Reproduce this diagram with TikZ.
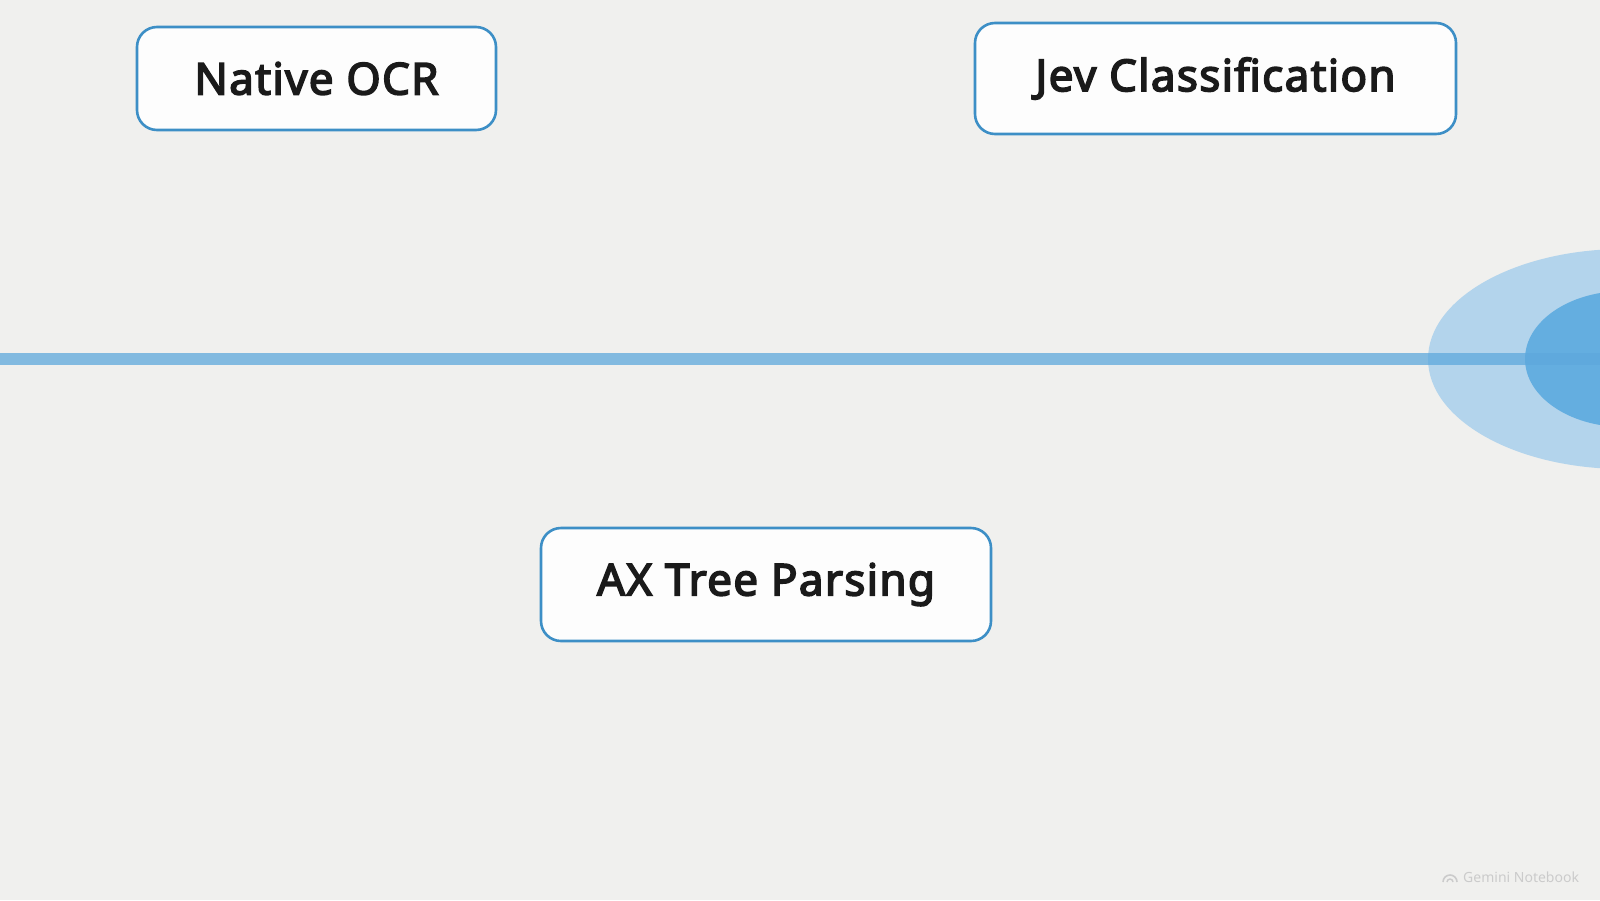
\documentclass[tikz,border=0pt]{standalone}
\usepackage{fontspec}
\setmainfont{Noto Sans}
\newfontfamily\boxfont{Noto Sans}[FakeBold=3.6, LetterSpace=3]
\newfontfamily\wmfont{Noto Sans}
\definecolor{bgc}{HTML}{F0F0EE}
\definecolor{boxborder}{HTML}{3D8FC6}
\definecolor{boxfill}{HTML}{FDFDFD}
\definecolor{txtc}{HTML}{1A1A1A}
\definecolor{outerblue}{HTML}{B3D4EC}
\definecolor{innerblue}{HTML}{64AEE0}
\definecolor{linec}{HTML}{5EA8DC}
\definecolor{wmc}{HTML}{CBCBCB}
\tikzset{
  stagebox/.style={draw=boxborder, fill=boxfill, line width=2.6pt, rounded corners=20pt,
    inner sep=0pt, text=txtc, font=\boxfont\fontsize{44}{52}\selectfont},
}
\begin{document}
\begin{tikzpicture}[x=1pt,y=-1pt]
\useasboundingbox (0,0) rectangle (1600,900);
\fill[bgc] (0,0) rectangle (1600,900);
% target rings at right
\fill[outerblue] (1624,359) ellipse [x radius=196pt, y radius=110pt];
\fill[innerblue] (1624,359) ellipse [x radius=99pt, y radius=68pt];
% timeline
\coordinate (lstart) at (0,359);
\coordinate (lend) at (1600,359);
\draw[linec, opacity=0.75, line width=12pt] (lstart) -- (lend);
% boxes
\node[stagebox, minimum width=359pt, minimum height=103pt] (ocr) at (316.5,78.5) {Native OCR};
\node[stagebox, minimum width=481pt, minimum height=111pt] (jev) at (1215.5,78.5) {Jev Classification};
\node[stagebox, minimum width=450pt, minimum height=113pt] (ax) at (766,584.5) {AX Tree Parsing};
% watermark
\node[anchor=west, inner sep=0pt, text=wmc, font=\wmfont\fontsize{14}{16}\selectfont] (wm) at (1463,877) {Gemini Notebook};
\draw[wmc, line width=1.6pt] (1443,882) arc[start angle=180, end angle=0, radius=7pt];
\draw[wmc, line width=1.4pt] (1447,882) arc[start angle=180, end angle=0, radius=3pt];
\end{tikzpicture}
\end{document}
